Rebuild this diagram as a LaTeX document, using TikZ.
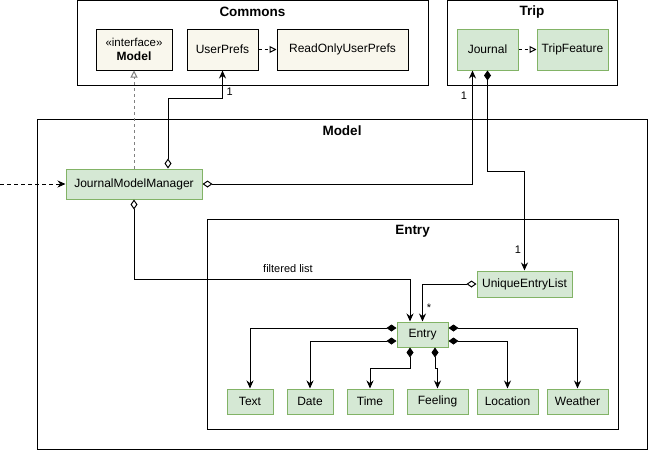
\documentclass[tikz,border=0pt]{standalone}
\usepackage{fontspec}
\setmainfont{Liberation Sans}
\usetikzlibrary{arrows.meta,positioning}

\definecolor{clsfill}{HTML}{D5E8D4}
\definecolor{clsdraw}{HTML}{82B366}
\definecolor{ifcfill}{HTML}{F9F7ED}

\begin{document}
\begin{tikzpicture}
[x=1pt, y=-1pt, line width=1pt, font=\fontsize{12}{14}\selectfont,
pkg/.style={rectangle, draw=black, inner sep=0pt},
title/.style={font=\fontsize{13.5}{16}\selectfont\bfseries},
cls/.style={rectangle, draw=clsdraw, fill=clsfill, inner sep=0pt, minimum height=25},
ifc/.style={rectangle, draw=black, fill=ifcfill, inner sep=0pt, minimum height=41},
mult/.style={font=\fontsize{11}{13}\selectfont, inner sep=1pt},
dep/.style={dash pattern=on 4pt off 3pt, -{Stealth[length=8pt,width=7pt]}},
real/.style={dash pattern=on 3pt off 3pt, -{Triangle[open,length=7pt,width=7pt]}},
aggr/.style={{Diamond[open,length=10pt,width=7pt]}-{Stealth[length=8pt,width=7pt]}},
comp/.style={{Diamond[length=10pt,width=7pt]}-{Stealth[length=8pt,width=7pt]}}]

\useasboundingbox (0,0) rectangle (648,450);

% packages
\node[pkg, minimum width=351, minimum height=84.5] (commons) at (252.5,42.75) {};
\node[title] (commonsT) at (252.5,12) {Commons};
\node[pkg, minimum width=170, minimum height=84.5] (trip) at (532,42.75) {};
\node[title] (tripT) at (532,12) {Trip};
\node[pkg, minimum width=610, minimum height=330] (modelP) at (342,284) {};
\node[title] (modelT) at (342,131) {Model};
\node[pkg, minimum width=411, minimum height=210] (entryP) at (412.5,324) {};
\node[title] (entryT) at (412.5,231) {Entry};

% Commons
\node[ifc, minimum width=76, align=center] (model) at (134,49.5)
  {\fontsize{11.5}{14}\selectfont «interface»\\\textbf{Model}};
\node[ifc, minimum width=71] (prefs) at (222.5,49.5) {UserPrefs};
\node[ifc, minimum width=131] (roprefs) at (342.5,49.5) {ReadOnlyUserPrefs};

% Trip
\node[cls, minimum width=61, minimum height=41] (journal) at (487.5,49.5) {Journal};
\node[cls, minimum width=71, minimum height=41] (tripfeat) at (572.5,49.5) {TripFeature};

% Model
\node[cls, minimum width=136, minimum height=30] (jmm) at (134,184) {JournalModelManager};
\node[cls, minimum width=95, minimum height=26] (uel) at (524.5,284) {UniqueEntryList};
\node[cls, minimum width=51] (entry) at (422.5,334.5) {Entry};

\node[cls, minimum width=46] (text) at (250,401.5) {Text};
\node[cls, minimum width=46] (date) at (310,401.5) {Date};
\node[cls, minimum width=46] (time) at (370,401.5) {Time};
\node[cls, minimum width=61] (feeling) at (437.5,401.5) {Feeling};
\node[cls, minimum width=61] (location) at (507.5,401.5) {Location};
\node[cls, minimum width=61] (weather) at (577.5,401.5) {Weather};

% connectors
\coordinate (ext) at (0,184);
\draw[dep] (ext) -- (jmm.west);
\draw[real, draw=gray] (jmm.north) -- (model.south);
\draw[aggr] ([xshift=34pt]jmm.north) -- ++(0,-70) -| (prefs.south);
\node[mult, anchor=west] (m1) at (225,92) {1};
\draw[real] (prefs.east) -- (roprefs.west);
\draw[real] (journal.east) -- (tripfeat.west);
\draw[aggr] (jmm.east) -| ([xshift=-15pt]journal.south);
\node[mult] (m2) at (464,96) {1};
\draw[comp] (journal.south) -- ++(0,101) -| (uel.north);
\node[mult] (m3) at (518,250) {1};
\draw[aggr] (jmm.south) -- ++(0,80) -| ([xshift=-12.5pt]entry.north);
\node[mult] (flist) at (288,269) {filtered list};
\draw[aggr] (uel.west) -| (entry.north);
\node[mult] (m4) at (429,308) {*};

\draw[comp] ([yshift=6.5pt]entry.west) -| (text.north);
\draw[comp] ([yshift=-6.5pt]entry.west) -| (date.north);
\draw[comp] ([xshift=-12.5pt]entry.south) -- ++(0,21) -| (time.north);
\draw[comp] ([xshift=12.5pt]entry.south) -- ++(0,21) -| (feeling.north);
\draw[comp] ([yshift=-6.5pt]entry.east) -| (location.north);
\draw[comp] ([yshift=6.5pt]entry.east) -| (weather.north);

\end{tikzpicture}
\end{document}
